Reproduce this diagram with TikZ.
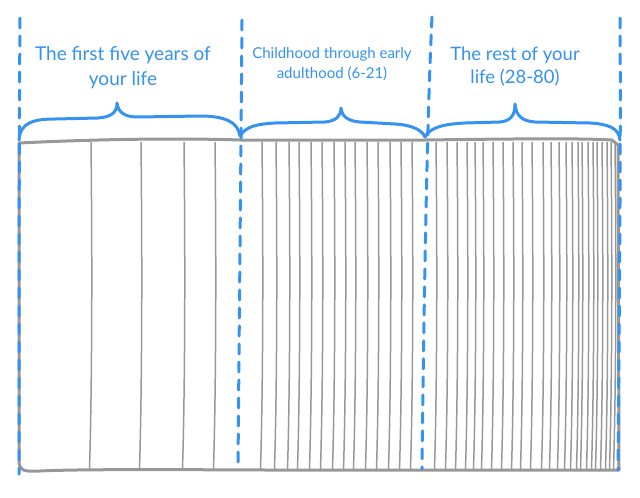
\documentclass[tikz,border=0pt]{standalone}
\usepackage{fontspec}
\setmainfont{Lato}
\definecolor{skyblue}{RGB}{52,146,240}
\definecolor{linegray}{RGB}{152,152,152}
\tikzset{
  dashblue/.style={draw=skyblue,line width=3pt,dash pattern=on 10pt off 8pt,line cap=round},
  bracestyle/.style={draw=skyblue,line width=3pt,line cap=round,line join=round},
  border/.style={draw=linegray,line width=3pt,line join=round},
  yearline/.style={draw=linegray,line width=1.5pt},
  lbl/.style={text=skyblue,align=center,inner sep=0pt}
}
\begin{document}
\begin{tikzpicture}[x=1pt,y=-1pt]
\useasboundingbox (0,0) rectangle (640,498);
% year lines
\foreach \x in {91,141,184,215,
  262,276,289,299,311,322,334,345,355,367,378,390,401,412,
  436,447,457,467,475,483,493,503,513,522,532,543,551,559,566,572,578,582,588,593,597,602,607,611,615}
  \draw[yearline] (\x,142) .. controls (\x+1.2,250) and (\x+1.2,380) .. (\x-1.5,469);
% outer border
\draw[border] (19,143) .. controls (100,139) and (180,138) .. (240,140) -- (425,140)
  .. controls (500,139) and (580,138) .. (612,140) -- (618,145) -- (619,470)
  -- (400,470) .. controls (300,471) and (100,468) .. (40,471)
  .. controls (22,472) and (19,470) .. (19,460) -- cycle;
% dashed separators
\draw[dashblue] (20,18) .. controls (19,150) and (19,350) .. (19,474);
\draw[dashblue] (242,20) .. controls (241,150) and (239,350) .. (238,468);
\draw[dashblue] (432,17) .. controls (427,120) and (424,300) .. (422,469);
\draw[dashblue] (620,18) .. controls (621,150) and (619,350) .. (618,470);
% braces
\draw[bracestyle] (19,140) .. controls (20,122) and (35,119) .. (55,119)
  -- (98,118) .. controls (112,117) and (117,112) .. (117,103)
  .. controls (118,112) and (124,117) .. (138,117) -- (200,116)
  .. controls (225,116) and (238,122) .. (240,136);
\draw[bracestyle] (240,136) .. controls (246,126) and (258,124) .. (275,123)
  -- (325,122) .. controls (336,121) and (341,116) .. (341,108)
  .. controls (342,116) and (347,121) .. (360,122) -- (395,124)
  .. controls (412,125) and (422,130) .. (425,137);
\draw[bracestyle] (425,137) .. controls (430,127) and (445,124) .. (465,123)
  -- (500,122) .. controls (511,121) and (515,115) .. (515,104)
  .. controls (516,115) and (521,121) .. (535,122) -- (590,123)
  .. controls (608,124) and (619,128) .. (620,140);
% labels
\node[lbl,font=\fontsize{19}{25}\selectfont] (first) at (123,68) {The first five years of\\your life};
\node[lbl,font=\fontsize{15}{20}\selectfont] (child) at (332,64) {Childhood through early\\adulthood (6-21)};
\node[lbl,font=\fontsize{18.5}{23}\selectfont] (rest) at (515,67) {The rest of your\\life (28-80)};
\end{tikzpicture}
\end{document}
